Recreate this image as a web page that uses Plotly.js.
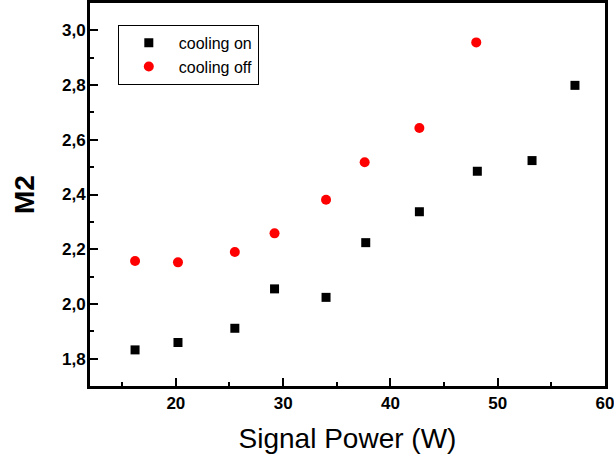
<!DOCTYPE html>
<html>
<head>
<meta charset="utf-8">
<script src="https://cdn.plot.ly/plotly-3.0.1.min.js"></script>
<style>html,body{margin:0;padding:0;background:#fff;}#chart{width:614px;height:465px;}</style>
</head>
<body>
<div id="chart"></div>
<script>
// Data
const powerOn  = [16.2, 20.2, 25.5, 29.2, 34.0, 37.7, 42.7, 48.1, 53.2, 57.2];
const m2On     = [1.832, 1.859, 1.911, 2.055, 2.024, 2.224, 2.337, 2.485, 2.524, 2.799];
const powerOff = [16.2, 20.2, 25.5, 29.2, 34.0, 37.6, 42.7, 48.0];
const m2Off    = [2.157, 2.152, 2.19, 2.258, 2.381, 2.518, 2.643, 2.956];
const seriesNames = ["cooling on", "cooling off"];
const xTitle = "Signal Power (W)";
const yTitle = "M2";

const FONT = "Liberation Sans, Arial, Helvetica, sans-serif";

const traces = [
  {x: powerOn, y: m2On, name: seriesNames[0], type: "scatter", mode: "markers",
   marker: {symbol: "square", size: 9, color: "#000000"}},
  {x: powerOff, y: m2Off, name: seriesNames[1], type: "scatter", mode: "markers",
   marker: {symbol: "circle", size: 10, color: "#ff0000"}}
];

const layout = {
  width: 614, height: 465,
  margin: {l: 90, r: 9, t: 3, b: 79, pad: 0},
  paper_bgcolor: "#ffffff", plot_bgcolor: "#ffffff",
  separators: ", ",
  showlegend: true,
  legend: {x: 0.054, y: 0.943, xanchor: "left", yanchor: "top",
           bordercolor: "#000000", borderwidth: 1, bgcolor: "#ffffff",
           font: {family: FONT, size: 16, color: "#000"}, itemwidth: 50,
           tracegroupgap: 0},
  xaxis: {
    range: [12, 60], showgrid: false, zeroline: false,
    showline: true, linewidth: 3, linecolor: "#000", mirror: true,
    ticks: "inside", ticklen: 8, tickwidth: 2, tickcolor: "#000",
    tick0: 0, dtick: 10, ticklabeloverflow: "allow",
    minor: {ticks: "inside", ticklen: 4, tickwidth: 2, tickcolor: "#000", dtick: 5, tick0: 0, showgrid: false},
    tickfont: {family: FONT, size: 17, color: "#000", weight: "bold"},
    title: {text: xTitle, font: {family: FONT, size: 28, color: "#000"}, standoff: 16}
  },
  yaxis: {
    range: [1.7, 3.1], showgrid: false, zeroline: false,
    showline: true, linewidth: 3, linecolor: "#000", mirror: true,
    ticks: "inside", ticklen: 8, tickwidth: 2, tickcolor: "#000",
    tick0: 0, dtick: 0.2, tickformat: ".1f",
    minor: {ticks: "inside", ticklen: 4, tickwidth: 2, tickcolor: "#000", dtick: 0.1, showgrid: false},
    tickfont: {family: FONT, size: 17, color: "#000", weight: "bold"},
    ticklabelstandoff: -2,
    title: {text: yTitle, font: {family: FONT, size: 28, color: "#000", weight: "bold"}, standoff: 20}
  },
  xaxis2: {
    overlaying: "x", side: "top", range: [0, 5.01], showgrid: false, zeroline: false,
    showline: false, showticklabels: false,
    ticks: "inside", ticklen: 8, tickwidth: 2, tickcolor: "#000", tick0: 1.015, dtick: 1,
    minor: {ticks: "inside", ticklen: 4, tickwidth: 2, tickcolor: "#000", dtick: 0.5, tick0: 1.015, showgrid: false}
  },
  yaxis2: {
    overlaying: "y", side: "right", range: [0, 4.995], showgrid: false, zeroline: false,
    showline: false, showticklabels: false,
    ticks: "inside", ticklen: 8, tickwidth: 2, tickcolor: "#000", tick0: 0.099, dtick: 1,
    minor: {ticks: "inside", ticklen: 4, tickwidth: 2, tickcolor: "#000", dtick: 0.5, tick0: 0.099, showgrid: false}
  }
};

Plotly.newPlot("chart", traces, layout, {displayModeBar: false, staticPlot: true});
</script>
</body>
</html>
